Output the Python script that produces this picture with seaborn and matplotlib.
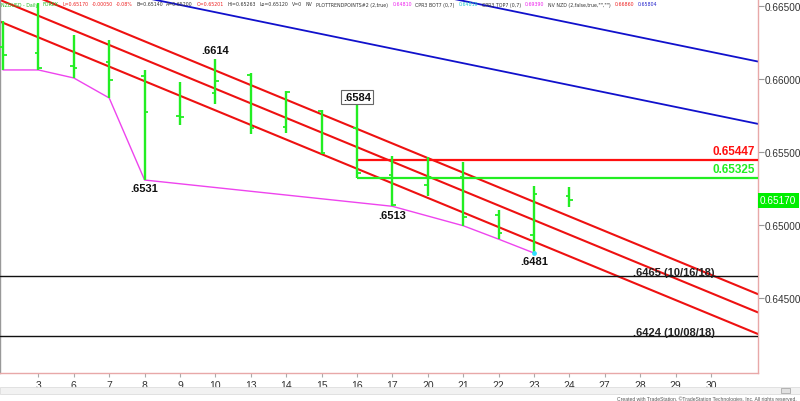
import numpy as np
import pandas as pd
import matplotlib
matplotlib.use("Agg")
import matplotlib.pyplot as plt
import matplotlib.transforms as mtransforms
from matplotlib.patches import Rectangle
from matplotlib import font_manager
import seaborn as sns

# ---------------- data ----------------
day_labels = ["2", "3", "6", "7", "8", "9", "10", "13", "14", "15", "16",
              "17", "20", "21", "22", "23", "24", "27", "28", "29", "30"]
bar_open = [0.66219, 0.66178, 0.66089, 0.66116, 0.66021, 0.65749, 0.65906, 0.66030,
            0.65671, 0.65785, 0.65664, 0.65347, 0.65277, 0.65331, 0.65070, 0.64936, 0.65201]
bar_high = [0.66397, 0.66520, 0.66303, 0.66269, 0.66064, 0.65984, 0.66140, 0.66041,
            0.65922, 0.65792, 0.65840, 0.65473, 0.65466, 0.65431, 0.65105, 0.65267, 0.65263]
bar_low = [0.66064, 0.66064, 0.66009, 0.65872, 0.65310, 0.65687, 0.65831, 0.65625,
           0.65630, 0.65488, 0.65324, 0.65130, 0.65199, 0.64997, 0.64905, 0.64810, 0.65128]
bar_close = [0.66168, 0.66075, 0.66077, 0.65997, 0.65774, 0.65745, 0.65990, 0.65664,
             0.65915, 0.65495, 0.65356, 0.65140, 0.65330, 0.65055, 0.64945, 0.65214, 0.65170]

swing_low_bars = [0, 1, 2, 3, 4, 11, 13, 14, 15]

channel_x = [0, 21]
red_lower = [0.66387, 0.64288]
red_mid = [0.66535, 0.64436]
red_upper = [0.66660, 0.64561]
blue_a = [0.66759, 0.65711]
blue_b = [0.67186, 0.66138]

level_start_bar = 10
resistance_red = 0.65447
resistance_green = 0.65325
resistance_labels = ["0.65447", "0.65325"]
support_levels = [0.6465, 0.6424]
support_labels = [".6465 (10/16/18)", ".6424 (10/08/18)"]
support_label_x = 17.8

ytick_values = [0.665, 0.660, 0.655, 0.650, 0.645]
last_price = 0.65170

high_notes = [(6, ".6614"), (10, ".6584")]
low_notes = [(4, ".6531"), (11, ".6513"), (15, ".6481")]

header_parts = [
    ("NZDUSD - Daily", "#22BB22"), ("FOREX", "#22BB22"),
    ("L=0.65170", "#EE2222"), ("-0.00050", "#EE2222"), ("-0.08%", "#EE2222"),
    ("B=0.65140", "#333333"), ("A=0.65200", "#333333"),
    ("O=0.65201", "#EE2222"), ("Hi=0.65263", "#333333"),
    ("Lo=0.65120", "#333333"), ("V=0", "#333333"), ("NV", "#333333"),
    ("PLOTTRENDPOINTS#2 (2,true)", "#333333"), ("0.64810", "#EE22EE"),
    ("CPR3 BOT7 (0,7)", "#333333"), ("0.64810", "#22CCCC"),
    ("CPR3 TOP7 (0,7)", "#333333"), ("0.69390", "#EE22EE"),
    ("NV NZD (2,false,true,\"\",\"\")", "#333333"), ("0.66860", "#EE2222"),
    ("0.65804", "#2222CC"),
]
header_left_px = 1
header_right_px = 657

# ---------------- style ----------------
sns.set_theme(style="white")
plt.rcParams['font.family'] = ['Liberation Sans', 'DejaVu Sans']

# try to find a condensed face for the dense header line
header_font = {"family": ["Liberation Sans", "DejaVu Sans"]}
for fam in ["Liberation Sans Narrow", "DejaVu Sans", "Roboto", "Open Sans", "Noto Sans"]:
    try:
        fp = font_manager.FontProperties(family=fam, stretch="condensed")
        path = font_manager.findfont(fp, fallback_to_default=False)
        if "ondensed" in path or "arrow" in path:
            header_font = {"family": [fam], "stretch": "condensed"}
            break
    except Exception:
        pass

GREEN = "#22EE22"
RED = "#EE1111"
BLUE = "#1111CC"
PINK = "#E8A8A8"

W, H = 800, 402
fig = plt.figure(figsize=(W / 100, H / 100), dpi=100)
fig.patch.set_facecolor("white")
ax = fig.add_axes([0, 28 / H, 758 / W, 374 / H])
ax.set_facecolor("white")

df = pd.DataFrame({"idx": np.arange(len(bar_open)), "open": bar_open, "high": bar_high,
                   "low": bar_low, "close": bar_close})

# channel lines
for vals in (red_lower, red_mid, red_upper):
    ax.axline((channel_x[0], vals[0]), (channel_x[1], vals[1]), color=RED, lw=1.5, zorder=2)
for vals in (blue_a, blue_b):
    ax.axline((channel_x[0], vals[0]), (channel_x[1], vals[1]), color=BLUE, lw=1.3, zorder=2)

# swing low line
sw = df.iloc[swing_low_bars]
sns.lineplot(x=sw["idx"], y=sw["low"], ax=ax, color="#EE44EE", lw=1.0, sort=False, zorder=3)
ax.scatter([swing_low_bars[-1]], [bar_low[swing_low_bars[-1]]], s=6, color="#33DDFF", zorder=5)

# horizontal levels
ax.hlines(resistance_red, level_start_bar, 30, color="#FF1010", lw=1.6, zorder=3)
ax.hlines(resistance_green, level_start_bar, 30, color=GREEN, lw=1.6, zorder=3)
for lv in support_levels:
    ax.axhline(lv, color="#111111", lw=1.0, zorder=3)

# OHLC bars
tick_w = 0.1
ax.vlines(df["idx"], df["low"], df["high"], color=GREEN, lw=1.7, zorder=4)
ax.hlines(df["open"], df["idx"] - tick_w, df["idx"], color=GREEN, lw=1.3, zorder=4)
ax.hlines(df["close"], df["idx"], df["idx"] + tick_w, color=GREEN, lw=1.3, zorder=4)

# axes limits
ax.set_xlim(-0.085, 21.33)
ax.set_ylim(0.63988, 0.66550)
ax.set_xlabel("")
ax.set_ylabel("")

# y axis on right
ax.yaxis.tick_right()
ax.set_yticks(ytick_values)
ax.set_yticklabels([f"{v:.5f}" for v in ytick_values])
ax.tick_params(axis="y", which="both", right=True, left=False, direction="out", length=4,
               width=0.8, color="#999999", labelsize=7.2, labelcolor="#333333", pad=1)
ax.set_xticks(range(1, len(day_labels)))
ax.set_xticklabels(day_labels[1:])
ax.tick_params(axis="x", bottom=True, direction="out", length=3, width=0.8, color="#AAAAAA",
               labelsize=7.5, labelcolor="#333333", pad=2)
ax.grid(False)
ax.spines["top"].set_visible(False)
ax.spines["left"].set_color("#999999")
ax.spines["left"].set_linewidth(1.0)
ax.spines["right"].set_color(PINK)
ax.spines["bottom"].set_color(PINK)
ax.spines["right"].set_linewidth(1.0)
ax.spines["bottom"].set_linewidth(1.0)

# annotations
for i, txt in high_notes:
    if txt == ".6584":
        ax.annotate(txt, xy=(i, bar_high[i]), xytext=(0, 4.0), textcoords="offset points",
                    ha="center", va="center", fontsize=8, fontweight="bold", color="#111111",
                    bbox=dict(boxstyle="square,pad=0.18", fc="white", ec="#666666", lw=0.8),
                    zorder=6)
    else:
        ax.annotate(txt, xy=(i, bar_high[i]), xytext=(0, 2.5), textcoords="offset points",
                    ha="center", va="bottom", fontsize=8, fontweight="bold", color="#111111",
                    zorder=6)
for i, txt in low_notes:
    ax.annotate(txt, xy=(i, bar_low[i]), xytext=(0, -2.5), textcoords="offset points",
                ha="center", va="top", fontsize=8, fontweight="bold", color="#111111", zorder=6)

trans = mtransforms.blended_transform_factory(ax.transAxes, ax.transData)
ax.annotate(resistance_labels[0], xy=(1.0, resistance_red), xycoords=trans, xytext=(-2, 2.2),
            textcoords="offset points", ha="right", va="bottom", fontsize=8.5,
            fontweight="bold", color="#FF1010", zorder=6)
ax.annotate(resistance_labels[1], xy=(1.0, resistance_green), xycoords=trans, xytext=(-2, 2.2),
            textcoords="offset points", ha="right", va="bottom", fontsize=8.5,
            fontweight="bold", color=GREEN, zorder=6)
for lv, txt in zip(support_levels, support_labels):
    ax.annotate(txt, xy=(support_label_x, lv), xytext=(0, 0.8), textcoords="offset points",
                ha="left", va="baseline", fontsize=8, fontweight="bold", color="#222222",
                zorder=6)

ax.annotate(f"{last_price:.5f}", xy=(1.0, last_price), xycoords=trans, xytext=(1.5, 0),
            textcoords="offset points", ha="left", va="center", fontsize=7.2, color="white",
            bbox=dict(boxstyle="square,pad=0.25", fc="#00EE00", ec="none"),
            annotation_clip=False, zorder=7)

# header: lay the pieces out one after another, fitted to the reference span
renderer = fig.canvas.get_renderer()
base_fs = 5.0
gap_px = 3.5
widths = []
for txt, col in header_parts:
    t = fig.text(0, 0, txt, fontsize=base_fs, **header_font)
    widths.append(t.get_window_extent(renderer).width)
    t.remove()
span = header_right_px - header_left_px - gap_px * (len(header_parts) - 1)
scale = span / sum(widths)
fs = min(base_fs * scale, 5.6)
scale = fs / base_fs
xpos = header_left_px
for (txt, col), wdt in zip(header_parts, widths):
    fig.text(xpos / W, 1 - 5 / H, txt, color=col, fontsize=fs, ha="left", va="center",
             **header_font)
    xpos += wdt * scale + gap_px

# scrollbar and credits
fig.patches.append(Rectangle((0, (H - 395) / H), 1, 7 / H, transform=fig.transFigure,
                             fc="#F2F2F2", ec="#DDDDDD", lw=0.6))
fig.patches.append(Rectangle((781 / W, (H - 394) / H), 9 / W, 5 / H, transform=fig.transFigure,
                             fc="#E0E0E0", ec="#AAAAAA", lw=0.6))
fig.text(797 / W, 1 - 399 / H,
         "Created with TradeStation. \u00a9TradeStation Technologies, Inc. All rights reserved.",
         fontsize=3.6, color="#555555", ha="right", va="center")

fig.savefig("out.png", dpi=100)
